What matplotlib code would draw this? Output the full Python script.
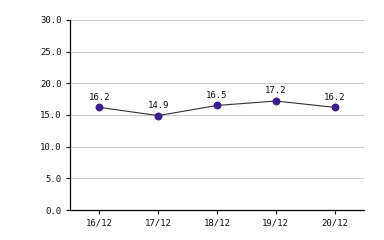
import matplotlib
matplotlib.use("Agg")
import matplotlib.pyplot as plt

categories = ["16/12", "17/12", "18/12", "19/12", "20/12"]
values = [16.2, 14.9, 16.5, 17.2, 16.2]
yticks = [0, 5, 10, 15, 20, 25, 30]

plt.rcParams['font.family'] = ['DejaVu Sans Mono']
fig = plt.figure(figsize=(3.84, 2.4), dpi=100)
ax = fig.add_axes([0.182, 0.125, 0.766, 0.792])
x = list(range(len(categories)))
ax.plot(x, values, color="#333333", linewidth=0.8, zorder=3)
ax.scatter(x, values, s=22, color="#3a1d8f", zorder=4)
for xi, v in zip(x, values):
    ax.annotate(f"{v:.1f}", (xi, v), xytext=(0, 4), textcoords="offset points",
                ha="center", va="bottom", fontsize=6.5, color="#111111")
ax.set_xlim(-0.5, len(categories) - 0.5)
ax.set_ylim(0, 30)
ax.set_yticks(yticks)
ax.set_yticklabels([f"{t:.1f}" for t in yticks], fontsize=6.5)
ax.set_xticks(x)
ax.set_xticklabels(categories, fontsize=6.5)
ax.yaxis.grid(True, color="#cccccc", linewidth=0.8)
ax.set_axisbelow(True)
for s in ["top", "right"]:
    ax.spines[s].set_visible(False)
ax.spines["left"].set_linewidth(0.9)
ax.spines["bottom"].set_linewidth(0.9)
ax.tick_params(axis="both", length=3, width=0.8, pad=3, colors="#111111")
fig.savefig("out.png", dpi=100)
